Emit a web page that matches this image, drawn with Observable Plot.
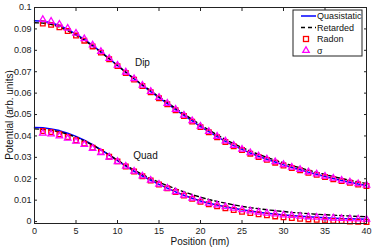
<!DOCTYPE html>
<html>
<head>
<meta charset="utf-8">
<script src="https://cdn.jsdelivr.net/npm/d3@7"></script>
<script src="https://cdn.jsdelivr.net/npm/@observablehq/plot@0.6"></script>
<style>
  html, body { margin: 0; padding: 0; background: #fff; }
  #chart { width: 374px; height: 248px; }
  svg { font-family: "Liberation Sans", Arial, Helvetica, sans-serif; }
</style>
</head>
<body>
<div id="chart"></div>
<script>
// Positions (nm)
const lineX = [0,1,2,3,4,5,6,7,8,9,10,11,12,13,14,15,16,17,18,19,20,21,22,23,24,25,26,27,28,29,30,31,32,33,34,35,36,37,38,39,40];
const markX = [1,2,3,4,5,6,7,8,9,10,11,12,13,14,15,16,17,18,19,20,21,22,23,24,25,26,27,28,29,30,31,32,33,34,35,36,37,38,39,40];

// Dip
const dipQuasistatic = [0.0938,0.0936,0.0929,0.0916,0.0898,0.0876,0.0851,0.0823,0.0793,0.0761,0.0729,0.0697,0.0666,0.0636,0.0607,0.0579,0.0551,0.0523,0.0496,0.0470,0.0444,0.0420,0.0397,0.0375,0.0355,0.0337,0.0320,0.0305,0.0291,0.0278,0.0265,0.0253,0.0242,0.0231,0.0221,0.0211,0.0201,0.0192,0.0184,0.0176,0.0169];
const dipRetarded = [0.0929,0.0927,0.0921,0.0909,0.0892,0.0871,0.0847,0.0820,0.0791,0.0760,0.0729,0.0698,0.0668,0.0639,0.0611,0.0583,0.0556,0.0529,0.0503,0.0477,0.0452,0.0428,0.0405,0.0384,0.0364,0.0346,0.0329,0.0314,0.0300,0.0287,0.0274,0.0262,0.0251,0.0240,0.0230,0.0220,0.0210,0.0201,0.0193,0.0185,0.0178];
const dipRadon = [0.0925,0.0919,0.0907,0.0890,0.0869,0.0845,0.0818,0.0789,0.0758,0.0726,0.0694,0.0663,0.0633,0.0604,0.0576,0.0548,0.0520,0.0493,0.0467,0.0441,0.0417,0.0394,0.0372,0.0352,0.0334,0.0317,0.0302,0.0288,0.0275,0.0262,0.0250,0.0239,0.0228,0.0218,0.0208,0.0198,0.0189,0.0181,0.0173,0.0166];
const dipSigma = [0.0944,0.0936,0.0922,0.0903,0.0880,0.0854,0.0825,0.0794,0.0762,0.0730,0.0698,0.0667,0.0637,0.0608,0.0580,0.0552,0.0524,0.0497,0.0471,0.0445,0.0421,0.0398,0.0376,0.0356,0.0338,0.0321,0.0306,0.0292,0.0279,0.0266,0.0254,0.0243,0.0232,0.0222,0.0212,0.0202,0.0193,0.0185,0.0177,0.0170];

// Quad
const quadQuasistatic = [0.0440,0.0438,0.0433,0.0425,0.0413,0.0398,0.0380,0.0359,0.0336,0.0311,0.0285,0.0259,0.0235,0.0213,0.0193,0.0174,0.0156,0.0139,0.0123,0.0109,0.0096,0.0086,0.0077,0.0069,0.0062,0.0055,0.0049,0.0044,0.0039,0.0035,0.0031,0.0028,0.0025,0.0022,0.0020,0.0018,0.0016,0.0014,0.0013,0.0012,0.0011];
const quadRetarded = [0.0433,0.0431,0.0427,0.0419,0.0408,0.0394,0.0377,0.0357,0.0335,0.0311,0.0287,0.0263,0.0241,0.0220,0.0201,0.0184,0.0168,0.0153,0.0139,0.0126,0.0114,0.0103,0.0094,0.0086,0.0078,0.0071,0.0065,0.0060,0.0055,0.0051,0.0047,0.0043,0.0040,0.0037,0.0034,0.0032,0.0030,0.0028,0.0026,0.0024,0.0023];
const quadRadon = [0.0423,0.0418,0.0408,0.0395,0.0380,0.0364,0.0345,0.0325,0.0303,0.0281,0.0257,0.0234,0.0212,0.0192,0.0173,0.0155,0.0138,0.0121,0.0106,0.0092,0.0081,0.0071,0.0062,0.0054,0.0046,0.0040,0.0034,0.0029,0.0024,0.0020,0.0016,0.0013,0.0010,0.0008,0.0005,0.0003,0.0002,0.0000,-0.0001,-0.0002];
const quadSigma = [0.0413,0.0409,0.0400,0.0389,0.0375,0.0360,0.0342,0.0322,0.0301,0.0280,0.0258,0.0235,0.0213,0.0193,0.0174,0.0156,0.0139,0.0123,0.0109,0.0096,0.0086,0.0077,0.0069,0.0062,0.0055,0.0049,0.0044,0.0039,0.0035,0.0031,0.0028,0.0025,0.0022,0.0020,0.0018,0.0016,0.0014,0.0013,0.0012,0.0011];

const xTicks = [0,5,10,15,20,25,30,35,40];
const yTicks = [0,0.01,0.02,0.03,0.04,0.05,0.06,0.07,0.08,0.09,0.1];
const seriesNames = ["Quasistatic", "Retarded", "Radon", "σ"];
const xLabel = "Position (nm)";
const yLabel = "Potential (arb. units)";
const curveLabels = [{text: "Dip", x: 12.1, y: 0.0743}, {text: "Quad", x: 11.9, y: 0.0308}];

const lineRows = (ys) => lineX.map((x, i) => ({x, y: ys[i]}));
const markRows = (ys) => markX.map((x, i) => ({x, y: ys[i]}));

const BLUE = "#0000ff", RED = "#ff0000", MAG = "#ff00ff";
const fmtY = d => d === 0 ? "0" : d3.format(".2~f")(d);

const chart = Plot.plot({
  width: 374,
  height: 248,
  marginLeft: 34,
  marginRight: 8,
  marginTop: 7,
  marginBottom: 25,
  style: {fontFamily: "'Liberation Sans', Arial, Helvetica, sans-serif", fontSize: "9px", color: "#222"},
  x: {domain: [0, 40]},
  y: {domain: [-0.0009, 0.1]},
  marks: [
    Plot.axisX({ticks: xTicks, tickSize: -3, tickPadding: 7.5, tickFormat: d => String(d), label: null, fontSize: 9}),
    Plot.axisX({anchor: "top", ticks: xTicks, tickSize: -3, tickFormat: () => "", label: null}),
    Plot.axisY({ticks: yTicks, tickSize: -3, tickPadding: 6, tickFormat: fmtY, label: null, fontSize: 9}),
    Plot.axisY({anchor: "right", ticks: yTicks, tickSize: -3, tickFormat: () => "", label: null}),
    Plot.line(lineRows(dipQuasistatic), {x: "x", y: "y", stroke: BLUE, strokeWidth: 1.5}),
    Plot.line(lineRows(quadQuasistatic), {x: "x", y: "y", stroke: BLUE, strokeWidth: 1.5}),
    Plot.line(lineRows(dipRetarded), {x: "x", y: "y", stroke: "#000", strokeWidth: 1.4, strokeDasharray: "4,3"}),
    Plot.line(lineRows(quadRetarded), {x: "x", y: "y", stroke: "#000", strokeWidth: 1.4, strokeDasharray: "4,3"}),
    Plot.dot(markRows(dipRadon), {x: "x", y: "y", symbol: "square", r: 2.6, stroke: RED, strokeWidth: 1.3, fill: "none"}),
    Plot.dot(markRows(quadRadon), {x: "x", y: "y", symbol: "square", r: 2.6, stroke: RED, strokeWidth: 1.3, fill: "none"}),
    Plot.dot(markRows(dipSigma), {x: "x", y: "y", symbol: "triangle", r: 2.4, stroke: MAG, strokeWidth: 1.3, fill: "none"}),
    Plot.dot(markRows(quadSigma), {x: "x", y: "y", symbol: "triangle", r: 2.4, stroke: MAG, strokeWidth: 1.3, fill: "none"}),
    Plot.text(curveLabels, {x: "x", y: "y", text: "text", textAnchor: "start", fontSize: 10, fill: "#111"}),
    Plot.frame({stroke: "#222", strokeWidth: 1})
  ]
});

const svg = d3.select(chart);

// Axis titles
svg.append("text").attr("x", 200).attr("y", 241).attr("dy", "0.35em")
  .attr("text-anchor", "middle").attr("font-size", 10).attr("fill", "#111").text(xLabel);
svg.append("text").attr("transform", "translate(9,115) rotate(-90)").attr("dy", "0.35em")
  .attr("text-anchor", "middle").attr("font-size", 10).attr("fill", "#111").text(yLabel);

// MATLAB-style legend box in the upper-right corner
const lg = svg.append("g").attr("transform", "translate(293,10)");
lg.append("rect").attr("x", 0).attr("y", 0).attr("width", 69).attr("height", 46)
  .attr("fill", "#fff").attr("stroke", "#222").attr("stroke-width", 1);
const rowY = [6, 17.5, 29, 40.5];
seriesNames.forEach((name, i) => {
  const y = rowY[i];
  if (i === 0) lg.append("line").attr("x1", 8).attr("x2", 23).attr("y1", y).attr("y2", y).attr("stroke", BLUE).attr("stroke-width", 1.5);
  if (i === 1) lg.append("line").attr("x1", 8).attr("x2", 23).attr("y1", y).attr("y2", y).attr("stroke", "#000").attr("stroke-width", 1.4).attr("stroke-dasharray", "4,3");
  if (i === 2) lg.append("rect").attr("x", 10.5).attr("y", y - 2.5).attr("width", 5).attr("height", 5).attr("fill", "none").attr("stroke", RED).attr("stroke-width", 1.3);
  if (i === 3) lg.append("path").attr("d", d3.symbol(d3.symbolTriangle, Math.PI * 2.4 * 2.4)()).attr("transform", `translate(13,${y})`).attr("fill", "none").attr("stroke", MAG).attr("stroke-width", 1.3);
  lg.append("text").attr("x", 24).attr("y", y).attr("dy", "0.35em").attr("text-anchor", "start")
    .attr("font-size", 9).attr("fill", "#111").text(name);
});

document.getElementById("chart").appendChild(chart);
</script>
</body>
</html>
